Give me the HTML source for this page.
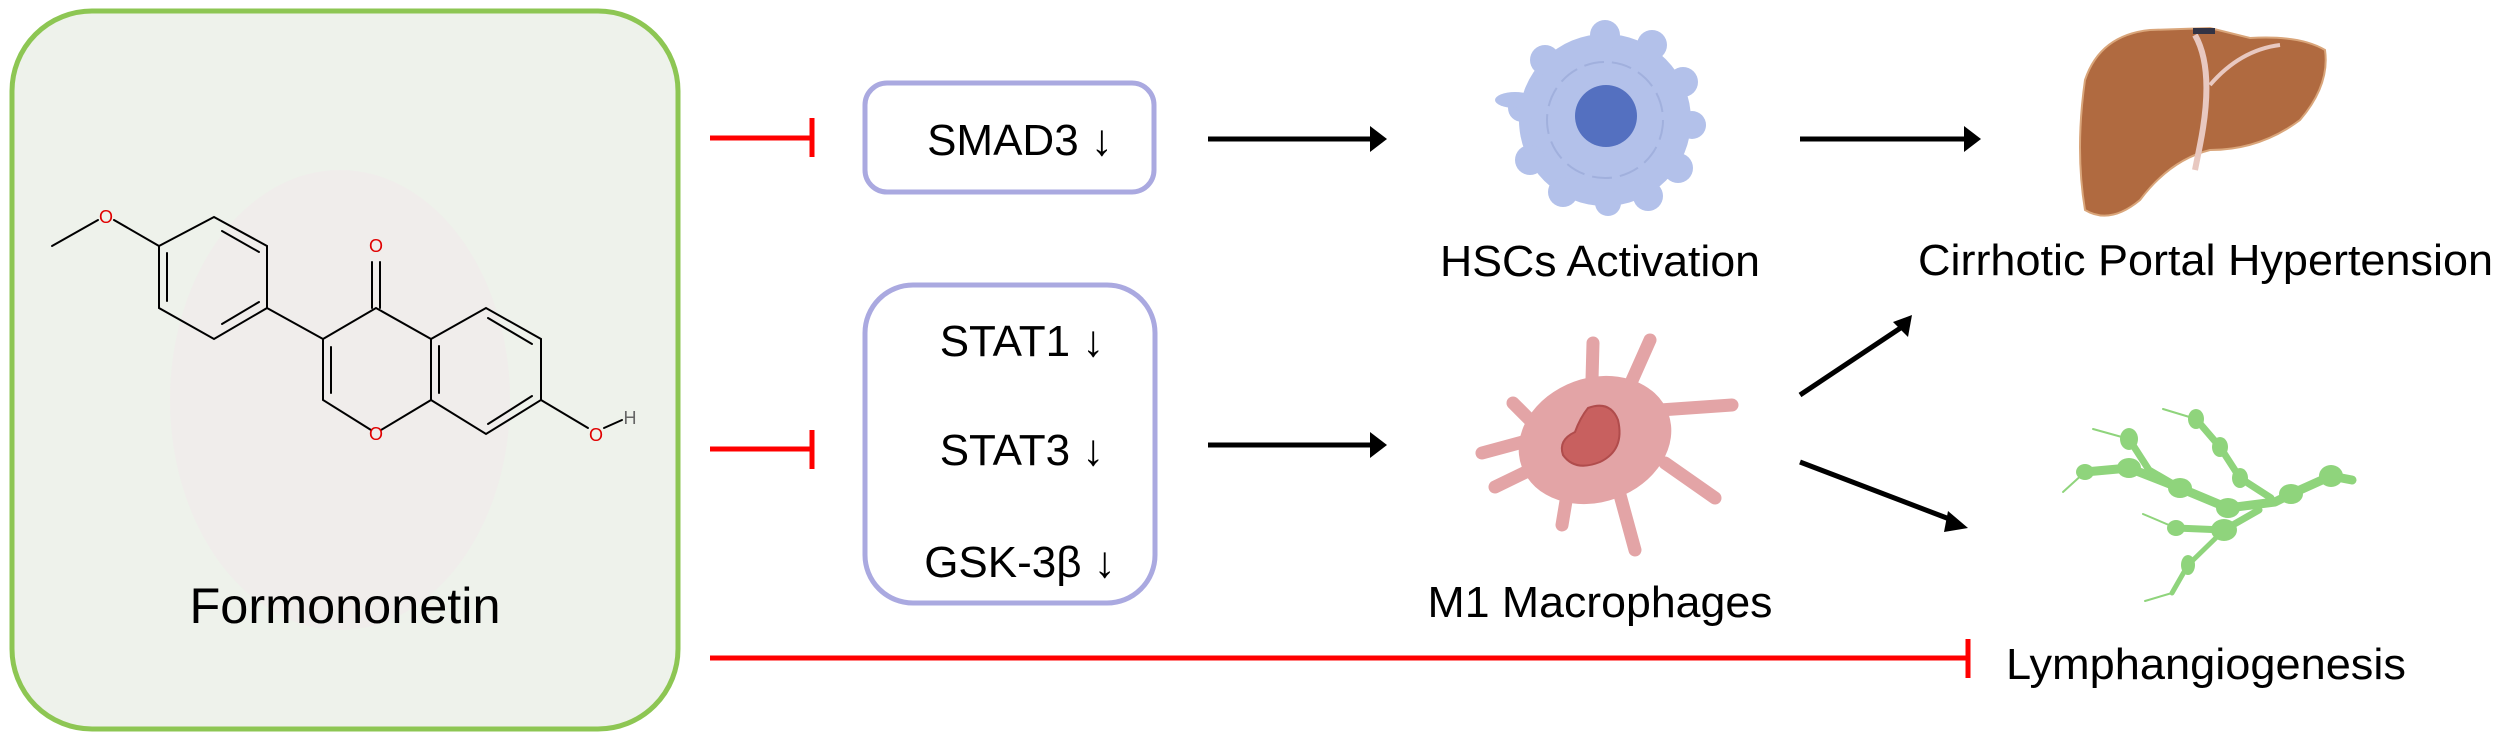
<!DOCTYPE html>
<html><head><meta charset="utf-8"><style>
html,body{margin:0;padding:0;background:#fff;}
svg{display:block;}
text{font-family:"Liberation Sans",Arial,sans-serif;}
</style></head><body>
<svg width="2500" height="742" viewBox="0 0 2500 742" xmlns="http://www.w3.org/2000/svg">
<!-- left panel -->
<rect x="12" y="11" width="666" height="718" rx="80" ry="80" fill="#eef2eb" stroke="#8dc653" stroke-width="5"/>
<ellipse cx="340" cy="400" rx="170" ry="230" fill="#f3e6ec" opacity="0.35"/>
<!-- molecule -->
<g stroke="#000" stroke-width="2" fill="none" stroke-linecap="round">
<line x1="52" y1="246" x2="98" y2="220"/>
<line x1="114" y1="220" x2="159" y2="246"/>
<polygon points="159,246 214,217 267,246 267,308 214,339 159,308"/>
<line x1="222" y1="231" x2="259" y2="252"/>
<line x1="259" y1="302" x2="222" y2="324"/>
<line x1="167" y1="253" x2="167" y2="301"/>
<line x1="267" y1="308" x2="323" y2="339"/>
<polyline points="323,339 376,308 431,339 431,400 381,430"/>
<polyline points="371,430 323,400 323,339"/>
<line x1="331" y1="347" x2="331" y2="393"/>
<line x1="372" y1="308" x2="372" y2="262"/>
<line x1="380" y1="308" x2="380" y2="262"/>
<polyline points="431,339 486,308 541,339 541,400 486,434 431,400"/>
<line x1="439" y1="346" x2="439" y2="393"/>
<line x1="488" y1="318" x2="532" y2="344"/>
<line x1="488" y1="424" x2="532" y2="396"/>
<line x1="541" y1="400" x2="588" y2="428"/>
<line x1="604" y1="428" x2="622" y2="420"/>
</g>
<g font-size="18" fill="#e00000" text-anchor="middle">
<text x="106" y="223">O</text>
<text x="376" y="252">O</text>
<text x="376" y="440">O</text>
<text x="596" y="441">O</text>
</g>
<text x="630" y="424" font-size="18" fill="#666" text-anchor="middle">H</text>
<text x="345" y="623" font-size="50" text-anchor="middle" textLength="311" lengthAdjust="spacingAndGlyphs">Formononetin</text>

<!-- boxes -->
<rect x="865" y="83" width="289" height="109" rx="22" fill="#fff" stroke="#aaa9e0" stroke-width="5"/>
<text x="1020" y="155" font-size="44" text-anchor="middle">SMAD3 ↓</text>
<rect x="865" y="285" width="290" height="318" rx="48" fill="#fff" stroke="#aaa9e0" stroke-width="5"/>
<text x="1022" y="356" font-size="44" text-anchor="middle">STAT1 ↓</text>
<text x="1022" y="465" font-size="44" text-anchor="middle">STAT3 ↓</text>
<text x="1020" y="577" font-size="44" text-anchor="middle">GSK-3β ↓</text>

<!-- red inhibitors -->
<g stroke="#ff0000" stroke-width="5">
<line x1="710" y1="138" x2="812" y2="138"/><line x1="812" y1="118" x2="812" y2="157"/>
<line x1="710" y1="449" x2="812" y2="449"/><line x1="812" y1="430" x2="812" y2="469"/>
<line x1="710" y1="658" x2="1968" y2="658"/><line x1="1968" y1="639" x2="1968" y2="678"/>
</g>

<!-- black arrows -->
<g stroke="#000" stroke-width="5">
<line x1="1208" y1="139" x2="1370" y2="139"/>
<line x1="1800" y1="139" x2="1965" y2="139"/>
<line x1="1208" y1="445" x2="1370" y2="445"/>
<line x1="1800" y1="395" x2="1902" y2="327"/>
<line x1="1800" y1="462" x2="1952" y2="520"/>
</g>
<g fill="#000">
<polygon points="1387,139 1370,126 1370,152"/>
<polygon points="1981,139 1964,126 1964,152"/>
<polygon points="1387,445 1370,432 1370,458"/>
<polygon points="1912,315 1893,322 1908,337"/>
<polygon points="1968,528 1948,511 1944,532"/>
</g>

<!-- HSC cell -->
<g fill="#b3c1ea">
<circle cx="1605" cy="120" r="86"/>
<circle cx="1605" cy="35" r="15"/><circle cx="1652" cy="45" r="15"/><circle cx="1683" cy="82" r="15"/>
<circle cx="1692" cy="125" r="14"/><circle cx="1678" cy="168" r="15"/><circle cx="1648" cy="196" r="15"/>
<circle cx="1608" cy="203" r="13"/><circle cx="1563" cy="192" r="15"/><circle cx="1530" cy="160" r="15"/>
<circle cx="1522" cy="108" r="14"/><circle cx="1545" cy="60" r="15"/><ellipse cx="1515" cy="100" rx="20" ry="8"/>
</g>
<circle cx="1605" cy="120" r="58" fill="none" stroke="#a1b0dd" stroke-width="2" stroke-dasharray="20 8"/>
<circle cx="1606" cy="116" r="31" fill="#5470c0"/>
<text x="1600" y="276" font-size="44" text-anchor="middle" textLength="320" lengthAdjust="spacingAndGlyphs">HSCs Activation</text>

<!-- liver -->
<path d="M2085,80 Q2100,35 2150,30 L2210,28 L2250,38 Q2300,35 2325,50 Q2330,85 2300,120 Q2260,150 2210,150 Q2170,160 2140,200 Q2110,225 2085,210 Q2075,150 2085,80 Z" fill="#b06a40" stroke="#d9a57a" stroke-width="2"/>
<path d="M2195,35 Q2215,70 2200,145 L2195,170" stroke="#e8c8c0" stroke-width="6" fill="none"/>
<path d="M2210,85 Q2240,50 2280,45" stroke="#e8c8c0" stroke-width="4" fill="none"/>
<rect x="2193" y="28" width="22" height="6" fill="#334"/>
<text x="1918" y="275" font-size="44" textLength="575" lengthAdjust="spacingAndGlyphs">Cirrhotic Portal Hypertension</text>

<!-- macrophage -->
<g stroke="#e3a4a6" stroke-width="13" stroke-linecap="round" fill="none">
<line x1="1592" y1="380" x2="1593" y2="343"/>
<line x1="1630" y1="385" x2="1650" y2="340"/>
<line x1="1660" y1="410" x2="1732" y2="405"/>
<line x1="1665" y1="463" x2="1715" y2="498"/>
<line x1="1620" y1="495" x2="1635" y2="550"/>
<line x1="1567" y1="495" x2="1562" y2="525"/>
<line x1="1530" y1="440" x2="1482" y2="453"/>
<line x1="1530" y1="470" x2="1495" y2="487"/>
<line x1="1530" y1="420" x2="1513" y2="403"/>
</g>
<ellipse cx="1595" cy="440" rx="78" ry="62" transform="rotate(-20 1595 440)" fill="#e3a4a6"/>
<path d="M1588,408 Q1610,400 1618,420 Q1625,450 1600,462 Q1575,472 1563,455 Q1558,440 1575,432 Q1580,418 1588,408 Z" fill="#c8605f" stroke="#b04c4c" stroke-width="2"/>
<text x="1600" y="617" font-size="44" text-anchor="middle" textLength="345" lengthAdjust="spacingAndGlyphs">M1 Macrophages</text>

<!-- lymph vessels -->
<g stroke="#8fd47c" fill="none" stroke-linecap="round" stroke-linejoin="round">
<polyline stroke-width="9" points="2085,472 2129,468 2180,488 2228,508 2275,502 2291,494 2331,476 2352,480"/>
<polyline stroke-width="2" points="2063,492 2085,472"/>
<polyline stroke-width="7" points="2129,439 2149,470 2180,488"/>
<polyline stroke-width="2" points="2093,429 2129,439"/>
<polyline stroke-width="7" points="2196,419 2220,447 2240,478 2271,498"/>
<polyline stroke-width="2" points="2163,409 2196,419"/>
<polyline stroke-width="7" points="2176,528 2224,530 2259,510"/>
<polyline stroke-width="2" points="2143,514 2176,528"/>
<polyline stroke-width="5" points="2224,530 2188,565 2172,593"/>
<polyline stroke-width="2" points="2172,593 2145,601"/>
</g>
<g fill="#8fd47c">
<ellipse cx="2085" cy="472" rx="9" ry="8"/><ellipse cx="2129" cy="468" rx="12" ry="10"/><ellipse cx="2180" cy="488" rx="12" ry="10"/>
<ellipse cx="2228" cy="508" rx="12" ry="10"/><ellipse cx="2291" cy="494" rx="12" ry="10"/><ellipse cx="2331" cy="476" rx="12" ry="11"/>
<ellipse cx="2129" cy="439" rx="9" ry="11"/><ellipse cx="2196" cy="419" rx="8" ry="10"/><ellipse cx="2220" cy="447" rx="8" ry="10"/>
<ellipse cx="2240" cy="478" rx="8" ry="10"/><ellipse cx="2176" cy="528" rx="9" ry="8"/><ellipse cx="2224" cy="530" rx="13" ry="11"/>
<ellipse cx="2188" cy="565" rx="7" ry="10"/>
</g>
<text x="2006" y="679" font-size="44" textLength="400" lengthAdjust="spacingAndGlyphs">Lymphangiogenesis</text>
</svg>
</body></html>
